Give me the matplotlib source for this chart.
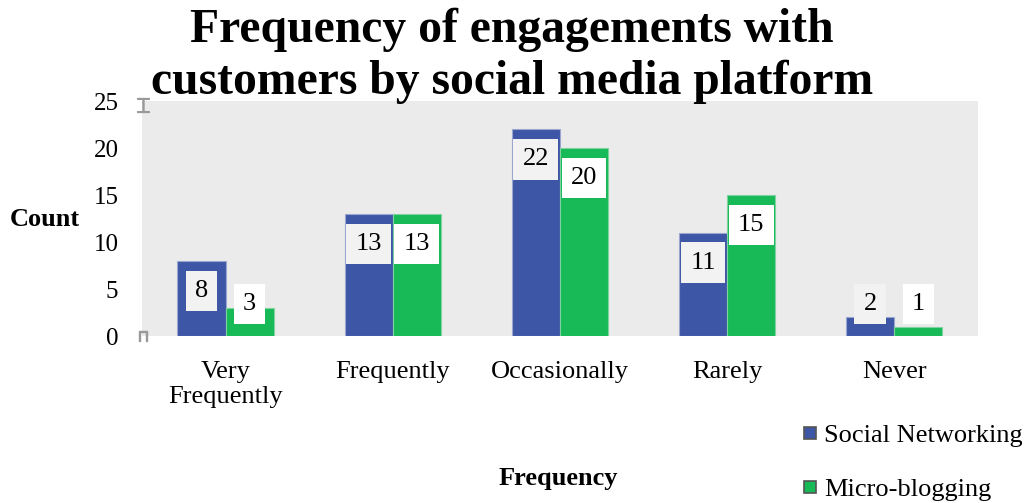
import matplotlib.pyplot as plt
import numpy as np

categories = ["Very\nFrequently", "Frequently", "Occasionally", "Rarely", "Never"]
social_networking = [8, 13, 22, 11, 2]
micro_blogging = [3, 13, 20, 15, 1]
series_names = ["Social Networking", "Micro-blogging"]

blue = "#3D56A5"
green = "#18B957"

plt.rcParams['font.family'] = ['Liberation Serif', 'DejaVu Serif']

fig = plt.figure(figsize=(10.24, 5.03), dpi=100)
ax = fig.add_axes([0.1387, 0.332, 0.8163, 0.467])
ax.set_facecolor("#EBEBEB")

x = np.arange(len(categories))
w = 0.288
b1 = ax.bar(x - w / 2, social_networking, w, color=blue, edgecolor="#9AA6CF", linewidth=0.8)
b2 = ax.bar(x + w / 2, micro_blogging, w, color=green, edgecolor="#7FD3A0", linewidth=0.8)

# value labels sit a little below each bar top, never lower than a floor
for bars, vals, bg in [(b1, social_networking, "#F2F2F2"), (b2, micro_blogging, "white")]:
    for bar, v in zip(bars, vals):
        ypos = max(v - 3.2, 3.4)
        ax.text(bar.get_x() + bar.get_width() / 2, ypos, str(v), ha="center", va="center",
                fontsize=19, color="black",
                bbox=dict(boxstyle="square,pad=0.35", fc=bg, ec="none"))

ax.set_xlim(-0.5, len(categories) - 0.5)
ax.set_ylim(0, 25)
ax.set_yticks([0, 5, 10, 15, 20, 25])
ax.set_xticks(x)
ax.set_xticklabels(categories, fontsize=19, linespacing=1.15)
ax.tick_params(axis="y", labelsize=18, length=0, pad=17)
ax.tick_params(axis="x", length=0, pad=18)
for s in ax.spines.values():
    s.set_visible(False)

# small gray marks at the left edge
ax.plot([0.0015], [24.6], marker="$\u2336$", color="#999999", markersize=10, transform=ax.get_yaxis_transform(), clip_on=False)
ax.plot([0.0015], [0.0], marker="$\u2293$", color="#999999", markersize=7, transform=ax.get_yaxis_transform(), clip_on=False)

fig.text(0.5, 0.985, "Frequency of engagements with\ncustomers by social media platform",
         ha="center", va="top", fontsize=34.3, fontweight="bold", linespacing=1.22)
fig.text(0.044, 0.563, "Count", ha="center", va="center", fontsize=19, fontweight="bold")
fig.text(0.545, 0.048, "Frequency", ha="center", va="center", fontsize=19, fontweight="bold")

handles = [plt.Line2D([], [], ls="none", marker="s", markersize=9, markerfacecolor=c,
                      markeredgecolor="#555555", markeredgewidth=1.2) for c in (blue, green)]
fig.legend(handles, series_names, loc="upper left", bbox_to_anchor=(0.756, 0.205),
           frameon=False, fontsize=19, handletextpad=0.1, labelspacing=1.15, handlelength=0.9)

fig.savefig("out.png", dpi=100)
